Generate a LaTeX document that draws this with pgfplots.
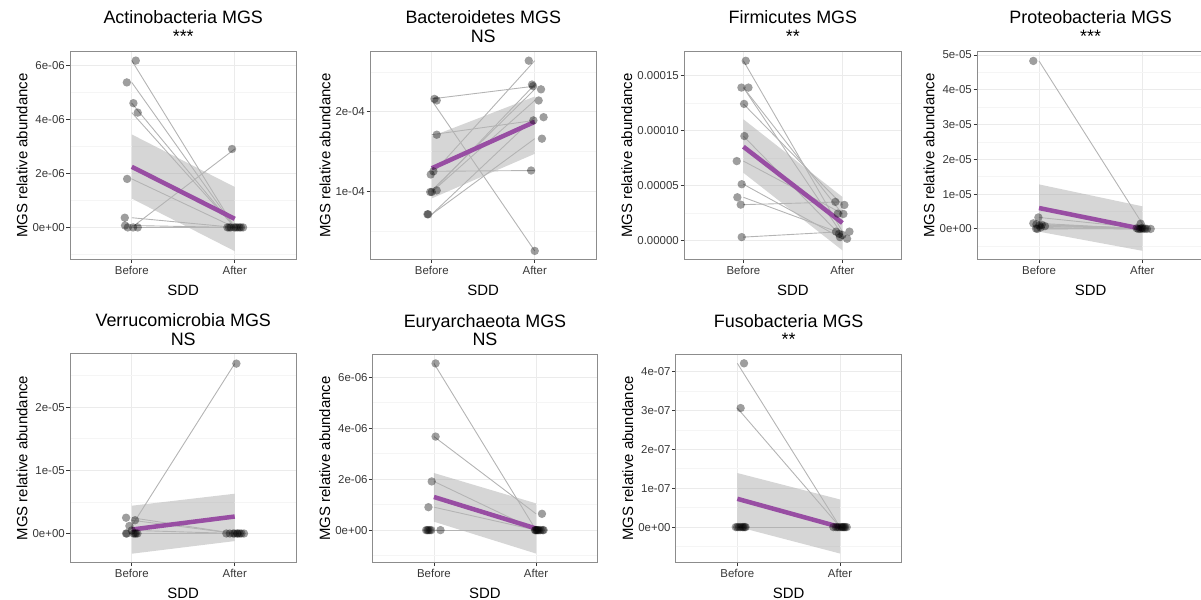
\documentclass[border=0pt]{standalone}
\usepackage{fontspec}
\setmainfont{Liberation Sans}
\usepackage{pgfplots}
\usepackage{pgfplotstable}
\pgfplotsset{compat=1.18}

\definecolor{ggpurple}{RGB}{152,78,163}
\definecolor{bordergray}{RGB}{140,140,140}
\definecolor{tickgray}{RGB}{55,55,55}
\definecolor{pairgray}{RGB}{180,180,180}
\definecolor{gridmajor}{RGB}{235,235,235}
\definecolor{gridminor}{RGB}{245,245,245}

\newcommand\ticksize{\fontsize{11.5}{13}\selectfont}
\newcommand\labelsize{\fontsize{15}{17}\selectfont}
\newcommand\titlesize{\fontsize{18}{19}\selectfont}

% columns: before-x (jittered), before value, after-x (jittered), after value
\pgfplotstableread{
bx by ax ay
1.039 6.19 1.929 0
0.952 5.38 1.961 0
1.016 4.61 1.994 0
1.058 4.26 2.026 0
0.955 1.80 2.081 0
0.932 0.36 2.010 0
0.935 0.07 2.045 0
0.961 0 1.974 2.91
1.013 0 1.945 0
1.058 0 2.060 0
}\tActino
\pgfplotstableread{
bx by ax ay
1.026 2.16 1.984 2.32
1.048 2.14 2.000 0.25
1.048 1.71 1.987 1.89
1.016 1.25 1.965 1.26
0.990 1.21 1.942 2.64
1.048 1.01 2.061 2.28
1.000 0.99 2.038 2.14
0.985 0.99 1.974 2.34
0.958 0.71 2.086 1.93
0.965 0.71 2.070 1.66
}\tBacter
\pgfplotstableread{
bx by ax ay
1.024 16.37 1.936 0.80
0.980 13.93 2.010 2.41
1.051 13.93 2.000 0.50
1.007 12.44 2.020 3.23
1.010 9.51 1.976 0.30
0.933 7.23 1.953 2.44
0.983 5.12 2.047 0.15
0.939 3.93 1.966 0.60
0.973 3.26 1.929 3.51
0.983 0.30 2.071 0.80
}\tFirmi
\pgfplotstableread{
bx by ax ay
0.945 4.83 1.984 0.15
0.994 0.33 1.945 0.02
0.945 0.16 1.977 0.00
0.975 0.13 2.026 0.01
1.026 0.12 2.081 0.00
1.003 0.10 2.000 0.03
1.058 0.08 1.960 0.00
1.016 0.04 2.010 0.00
0.971 0.01 2.045 0.00
0.985 0.00 1.990 0.01
}\tProteo
\pgfplotstableread{
bx by ax ay
0.945 0.25 1.919 0
1.032 0.21 1.952 0
0.977 0.12 2.016 2.69
1.000 0.05 2.023 0
0.945 0 2.048 0
1.016 0 2.090 0
1.055 0 1.985 0
1.030 0 2.030 0
0.952 0 2.065 0
1.040 0 2.000 0
}\tVerru
\pgfplotstableread{
bx by ax ay
1.016 6.54 1.990 0
1.016 3.67 2.058 0.64
0.978 1.91 2.010 0
0.946 0.90 2.030 0
0.923 0 2.074 0
0.946 0 1.995 0
0.974 0 2.020 0
1.064 0 2.045 0
0.960 0 2.065 0
0.935 0 2.005 0
}\tEury
\pgfplotstableread{
bx by ax ay
1.065 4.21 1.935 0
1.032 3.06 1.960 0
0.985 0 1.990 0
1.016 0 2.010 0
1.048 0 2.030 0
1.071 0 2.065 0
1.032 0 2.050 0
1.000 0 1.975 0
1.058 0 2.040 0
1.080 0 2.020 0
}\tFuso

\pgfplotsset{
  gg/.style={
    scale only axis,
    xmin=0.4, xmax=2.6, xtick={1,2}, xticklabels={Before,After},
    tick align=outside, xtick pos=left, ytick pos=left,
    major tick length=3.5bp, minor tick length=0pt,
    tick style={line width=0.8bp, color=tickgray},
    axis line style={line width=0.9bp, color=bordergray},
    xmajorgrids, ymajorgrids, yminorgrids,
    major grid style={line width=0.8bp, color=gridmajor},
    minor grid style={line width=0.6bp, color=gridminor},
    ticklabel style={font=\ticksize, text=tickgray},
    xlabel={SDD}, ylabel={MGS relative abundance},
    label style={font=\labelsize},
    xlabel style={at={(axis description cs:0.5,0)}, anchor=base, yshift=-35.7bp},
    yticklabel style={inner sep=1.5bp},
  },
  ggtitle/.style n args={4}{extra description/.code={
    \node[font=\titlesize, anchor=base, inner sep=0pt] at (axis description cs:0.5,1) [yshift=#3bp] {#1};
    \node[font=\titlesize, anchor=base, inner sep=0pt] at (axis description cs:0.5,1) [yshift=#4bp] {#2};
  }},
  ribbon/.style={draw=none, fill=black!40, fill opacity=0.4, forget plot},
  fitline/.style={color=ggpurple, line width=4.5bp, forget plot},
  pairline/.style={color=pairgray, line width=0.9bp,
    quiver={u=1, v=\thisrow{ay}-\thisrow{by}}, forget plot},
  pts/.style={only marks, mark=*, mark size=4.2bp,
    mark options={draw opacity=0, fill=black, fill opacity=0.38}, forget plot},
}

\begin{document}
\begin{tikzpicture}

% ---------- Actinobacteria ----------
\begin{scope}[xshift=70bp, yshift=340.5bp]
\begin{axis}[gg, width=226.5bp, height=207.8bp,
  ymin=-1.19, ymax=6.52, ytick={0,2,4,6},
  yticklabels={0e+00,2e-06,4e-06,6e-06}, minor ytick={-1,1,3,5},
  ggtitle={Actinobacteria MGS}{***}{28.4}{9.4}]
\addplot[ribbon] coordinates {(1,1.07) (2,-0.88) (2,1.50) (1,3.45)};
\addplot[pairline] table[x expr=1, y=by] {\tActino};
\addplot[fitline] coordinates {(1,2.25) (2,0.32)};
\addplot[pts] table[x=bx, y=by] {\tActino};
\addplot[pts] table[x=ax, y=ay] {\tActino};
\end{axis}
\end{scope}

% ---------- Bacteroidetes ----------
\begin{scope}[xshift=370bp, yshift=340.5bp]
\begin{axis}[gg, width=226.5bp, height=207.8bp,
  ymin=0.142, ymax=2.753, ytick={1,2},
  yticklabels={1e-04,2e-04}, minor ytick={0.5,1.5,2.5},
  ggtitle={Bacteroidetes MGS}{NS}{28.4}{9.4}]
\addplot[ribbon] coordinates {(1,0.91) (2,1.47) (2,2.19) (1,1.69)};
\addplot[pairline] table[x expr=1, y=by] {\tBacter};
\addplot[fitline] coordinates {(1,1.288) (2,1.872)};
\addplot[pts] table[x=bx, y=by] {\tBacter};
\addplot[pts] table[x=ax, y=ay] {\tBacter};
\end{axis}
\end{scope}

% ---------- Firmicutes ----------
\begin{scope}[xshift=684bp, yshift=340.5bp]
\begin{axis}[gg, width=217.8bp, height=207.8bp,
  ymin=-1.74, ymax=17.2, ytick={0,5,10,15},
  yticklabels={0.00000,0.00005,0.00010,0.00015}, minor ytick={2.5,7.5,12.5},
  ggtitle={Firmicutes MGS}{**}{28.4}{9.4}]
\addplot[ribbon] coordinates {(1,6.16) (2,-0.91) (2,3.96) (1,11.04)};
\addplot[pairline] table[x expr=1, y=by] {\tFirmi};
\addplot[fitline] coordinates {(1,8.54) (2,1.59)};
\addplot[pts] table[x=bx, y=by] {\tFirmi};
\addplot[pts] table[x=ax, y=ay] {\tFirmi};
\end{axis}
\end{scope}

% ---------- Proteobacteria ----------
\begin{scope}[xshift=977bp, yshift=340.5bp]
\begin{axis}[gg, width=227.3bp, height=207.8bp,
  ymin=-0.88, ymax=5.096, ytick={0,1,2,3,4,5},
  yticklabels={0e+00,1e-05,2e-05,3e-05,4e-05,5e-05},
  minor ytick={-0.5,0.5,1.5,2.5,3.5,4.5},
  ggtitle={Proteobacteria MGS}{***}{28.4}{9.4}]
\addplot[ribbon] coordinates {(1,-0.08) (2,-0.63) (2,0.65) (1,1.28)};
\addplot[pairline] table[x expr=1, y=by] {\tProteo};
\addplot[fitline] coordinates {(1,0.60) (2,0.0)};
\addplot[pts] table[x=bx, y=by] {\tProteo};
\addplot[pts] table[x=ax, y=ay] {\tProteo};
\end{axis}
\end{scope}

% ---------- Verrucomicrobia ----------
\begin{scope}[xshift=70bp, yshift=37.5bp]
\begin{axis}[gg, width=226.5bp, height=209bp,
  ymin=-0.459, ymax=2.85, ytick={0,1,2},
  yticklabels={0e+00,1e-05,2e-05}, minor ytick={0.5,1.5,2.5},
  ggtitle={Verrucomicrobia MGS}{NS}{26.5}{8.5}]
\addplot[ribbon] coordinates {(1,-0.32) (2,-0.12) (2,0.63) (1,0.44)};
\addplot[pairline] table[x expr=1, y=by] {\tVerru};
\addplot[fitline] coordinates {(1,0.063) (2,0.269)};
\addplot[pts] table[x=bx, y=by] {\tVerru};
\addplot[pts] table[x=ax, y=ay] {\tVerru};
\end{axis}
\end{scope}

% ---------- Euryarchaeota ----------
\begin{scope}[xshift=372.7bp, yshift=37.5bp]
\begin{axis}[gg, width=224.6bp, height=208bp,
  ymin=-1.27, ymax=6.89, ytick={0,2,4,6},
  yticklabels={0e+00,2e-06,4e-06,6e-06}, minor ytick={-1,1,3,5},
  ggtitle={Euryarchaeota MGS}{NS}{26.5}{8.5}]
\addplot[ribbon] coordinates {(1,0.33) (2,-0.92) (2,1.05) (1,2.24)};
\addplot[pairline] table[x expr=1, y=by] {\tEury};
\addplot[fitline] coordinates {(1,1.30) (2,0.064)};
\addplot[pts] table[x=bx, y=by] {\tEury};
\addplot[pts] table[x=ax, y=ay] {\tEury};
\end{axis}
\end{scope}

% ---------- Fusobacteria ----------
\begin{scope}[xshift=675.7bp, yshift=37.5bp]
\begin{axis}[gg, width=226bp, height=208.5bp,
  ymin=-0.91, ymax=4.45, ytick={0,1,2,3,4},
  yticklabels={0e+00,1e-07,2e-07,3e-07,4e-07},
  minor ytick={-0.5,0.5,1.5,2.5,3.5},
  ggtitle={Fusobacteria MGS}{**}{26.5}{8.5}]
\addplot[ribbon] coordinates {(1,0.01) (2,-0.68) (2,0.71) (1,1.39)};
\addplot[pairline] table[x expr=1, y=by] {\tFuso};
\addplot[fitline] coordinates {(1,0.727) (2,0.0)};
\addplot[pts] table[x=bx, y=by] {\tFuso};
\addplot[pts] table[x=ax, y=ay] {\tFuso};
\end{axis}
\end{scope}

\pgfresetboundingbox
\useasboundingbox (0bp,0bp) rectangle (1201bp,600bp);
\end{tikzpicture}
\end{document}
